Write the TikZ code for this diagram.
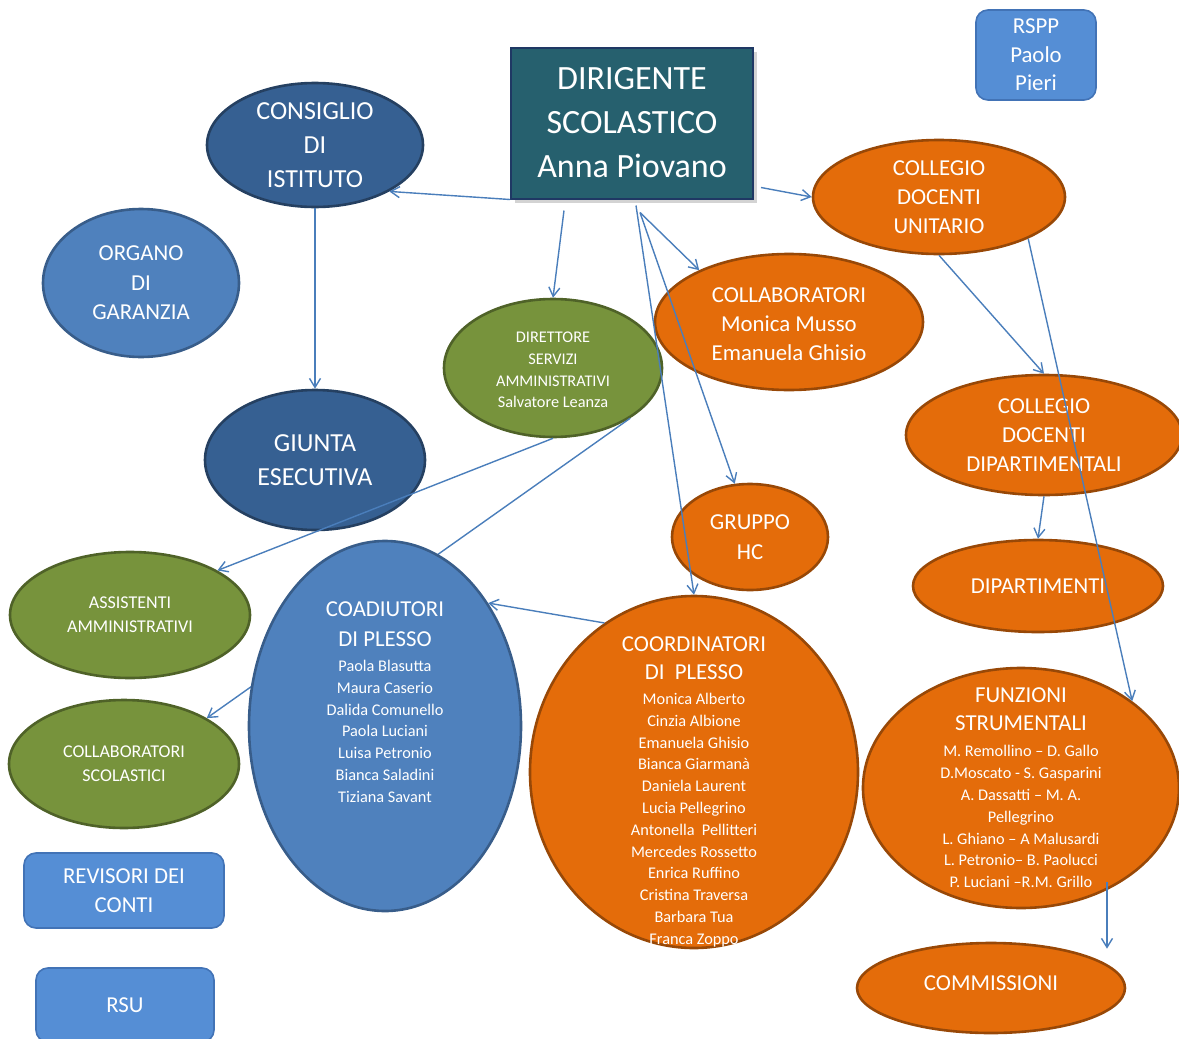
\documentclass[tikz,border=0pt]{standalone}
\usepackage{fontspec}
\setmainfont{Carlito}
\usetikzlibrary{shapes.geometric,arrows.meta,shadows}
\definecolor{dirfill}{RGB}{38,96,110}
\definecolor{dirdraw}{RGB}{31,56,100}
\definecolor{rbfill}{RGB}{85,142,213}
\definecolor{rbdraw}{RGB}{66,115,182}
\definecolor{dbfill}{RGB}{54,96,146}
\definecolor{dbdraw}{RGB}{37,64,97}
\definecolor{mbfill}{RGB}{79,129,189}
\definecolor{mbdraw}{RGB}{56,93,138}
\definecolor{grfill}{RGB}{119,147,60}
\definecolor{grdraw}{RGB}{79,98,40}
\definecolor{orfill}{RGB}{228,108,10}
\definecolor{ordraw}{RGB}{152,72,7}
\definecolor{arrc}{RGB}{74,126,187}
\newcommand{\hdr}{\fontsize{22.8}{28}\selectfont}
\begin{document}
\lineskiplimit=-100pt
\begin{tikzpicture}[x=1pt,y=-1pt,
  sz/.style 2 args={minimum width=#1pt, minimum height=#2pt},
  oval/.style={ellipse, inner sep=0pt, line width=2.6pt},
  darkoval/.style={oval, fill=dbfill, draw=dbdraw},
  medoval/.style={oval, fill=mbfill, draw=mbdraw},
  greenoval/.style={oval, fill=grfill, draw=grdraw},
  orangeoval/.style={oval, fill=orfill, draw=ordraw},
  rbox/.style={rectangle, rounded corners=12pt, fill=rbfill, draw=rbdraw, line width=1.6pt,
    text=white, align=center, inner sep=0pt},
  lab/.style={text=white, align=center, inner sep=0pt},
  fxxxiv/.style={font=\fontsize{34}{44}\selectfont},
  fxxvi/.style={font=\fontsize{26}{34}\selectfont},
  fxxiii/.style={font=\fontsize{22.8}{29.2}\selectfont},
  fxviii/.style={font=\fontsize{18}{24}\selectfont},
  fxvi/.style={font=\fontsize{16.3}{21.6}\selectfont},
  fnames/.style={font=\fontsize{16.3}{21.8}\selectfont},
  arr/.style={draw=arrc, line width=1.4pt, -{Straight Barb[length=9pt,width=11pt]}}
]
\useasboundingbox (0,0) rectangle (1179,1039);
\clip (0,0) rectangle (1179,1039);

% top boxes
\node[rectangle, fill=dirfill, draw=dirdraw, line width=2pt, sz={242}{151},
  drop shadow={shadow xshift=4pt, shadow yshift=-4pt, opacity=0.35},
  text=white, align=center, inner sep=0pt, fxxxiv] (dir) at (632,123)
  {DIRIGENTE\\SCOLASTICO\\Anna Piovano};
\node[rbox, sz={120}{90}, font=\fontsize{22.8}{28.5}\selectfont] (rspp) at (1036,55)
  {RSPP\\Paolo\\Pieri};

% left column
\node[darkoval, sz={216}{124}, label={[lab,fxxvi]center:{CONSIGLIO\\DI\\ISTITUTO}}] (cons) at (315,145) {};
\node[medoval, sz={196}{148}, label={[lab,font=\fontsize{22.8}{29.5}\selectfont]center:{ORGANO\\DI\\GARANZIA}}] (org) at (141,283) {};
\node[darkoval, sz={220}{140}, label={[lab,fxxvi]center:{GIUNTA\\ESECUTIVA}}] (giunta) at (315,460) {};
\node[greenoval, sz={218}{138}, label={[lab,fxvi,yshift=-2pt]center:{DIRETTORE\\SERVIZI\\AMMINISTRATIVI\\Salvatore Leanza}}] (dsa) at (553,368) {};
\node[greenoval, sz={240}{126}, label={[lab,fxviii]center:{ASSISTENTI\\AMMINISTRATIVI}}] (assist) at (130,615) {};
\node[greenoval, sz={230}{128}, label={[lab,fxviii]center:{COLLABORATORI\\SCOLASTICI}}] (collsc) at (124,764) {};
\node[rbox, sz={200}{75}, fxxiii] (rev) at (124,890.5) {REVISORI DEI\\CONTI};
\node[rbox, sz={178}{74}, fxxiii] (rsu) at (125,1005) {RSU};

% right side
\node[orangeoval, sz={268}{136}, label={[lab,fxxiii,yshift=-2pt]center:{COLLABORATORI\\Monica Musso\\Emanuela Ghisio}}] (collab) at (789,322) {};
\node[orangeoval, sz={252}{114}, label={[lab,fxxiii]center:{COLLEGIO\\DOCENTI\\UNITARIO}}] (unit) at (939,197) {};
\node[orangeoval, sz={276}{120}, label={[lab,fxxiii]center:{COLLEGIO\\DOCENTI\\DIPARTIMENTALI}}] (dipart) at (1044,435) {};
\node[orangeoval, sz={156}{106}, label={[lab,font=\fontsize{22.8}{30}\selectfont]center:{GRUPPO\\HC}}] (hc) at (750,537) {};
\node[orangeoval, sz={250}{92}, label={[lab,fxxiii]center:{DIPARTIMENTI}}] (dipt) at (1038,586) {};
\node[orangeoval, sz={316}{240}, label={[lab,fnames]center:{\hdr FUNZIONI\\[6.2pt]\hdr STRUMENTALI\\[4.2pt]M. Remollino -- D. Gallo\\D.Moscato - S. Gasparini\\A. Dassatti -- M. A.\\Pellegrino\\L. Ghiano -- A Malusardi\\L. Petronio-- B. Paolucci\\P. Luciani --R.M. Grillo}}] (funz) at (1021,788) {};
\node[orangeoval, sz={268}{90}, label={[lab,fxxiii,yshift=5pt]center:{COMMISSIONI}}] (comm) at (991,988) {};

% connector passing behind the COADIUTORI ellipse
\draw[arr] (dsa.-33) -- (collsc.29);

\node[medoval, sz={272}{370}, label={[lab,fnames,yshift=24pt]center:{\hdr COADIUTORI\\[8.2pt]\hdr DI PLESSO\\[3.2pt]Paola Blasutta\\Maura Caserio\\Dalida Comunello\\Paola Luciani\\Luisa Petronio\\Bianca Saladini\\Tiziana Savant}}] (coad) at (385,726) {};
\node[orangeoval, sz={328}{352}, label={[lab,fnames,yshift=-20pt]center:{\hdr COORDINATORI\\[6.1pt]\hdr DI\ \ PLESSO\\[3.1pt]Monica Alberto\\Cinzia Albione\\Emanuela Ghisio\\Bianca Giarmanà\\Daniela Laurent\\Lucia Pellegrino\\Antonella\ \ Pellitteri\\Mercedes Rossetto\\Enrica Ruffino\\Cristina Traversa\\Barbara Tua\\Franca Zoppo}}] (coord) at (694,772) {};

% connectors
\draw[arr] (dir.south west) -- (cons.-32);
\draw[arr] ([xshift=-68pt,yshift=-11pt]dir.south) -- (dsa.north);
\draw[arr] ([xshift=7pt,yshift=12pt]dir.south east) -- (unit.west);
\draw[arr] ([xshift=8pt,yshift=-13pt]dir.south) -- (collab.150);
\draw[arr] ([xshift=8pt,yshift=-13pt]dir.south) -- (hc.106);
\draw[arr] ([xshift=4pt,yshift=-6pt]dir.south) -- (coord.north);
\draw[arr] (cons.south) -- (giunta.north);
\draw[arr] (unit.south) -- (dipart.north);
\draw[arr] (unit.-25) -- (funz.38);
\draw[arr] (dipart.south) -- (dipt.north);
\draw[arr] (dsa.south) -- (assist.27);
\draw[arr] (coord.121) -- (coad.50);
\draw[arr] ([xshift=86pt,yshift=27pt]funz.south) -- ([xshift=116pt,yshift=-7pt]comm.north);
\end{tikzpicture}
\end{document}
